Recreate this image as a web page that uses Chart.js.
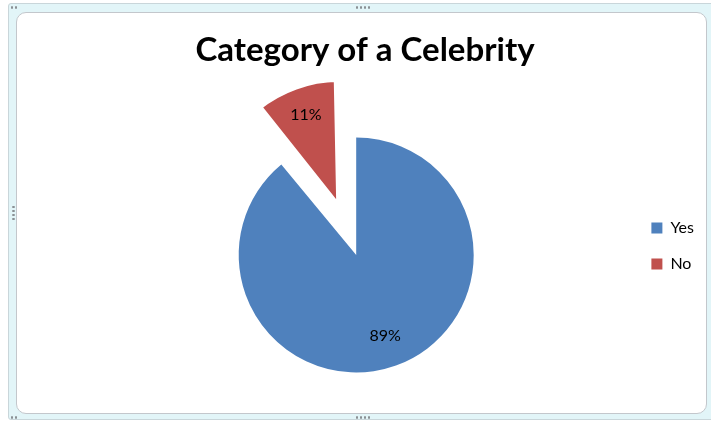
<!DOCTYPE html>
<html>
<head>
<meta charset="utf-8">
<title>Category of a Celebrity</title>
<script src="https://cdn.jsdelivr.net/npm/chart.js@4.4.0/dist/chart.umd.min.js"></script>
<style>
  html, body { margin: 0; padding: 0; width: 711px; height: 423px; overflow: hidden; background: #fff; }
  /* moldura estilo Excel */
  .frame { position: absolute; left: 8px; top: 3px; width: 712px; height: 417px; box-sizing: border-box;
           background: #e2f5f8; border: 1px solid #c9d6da; border-radius: 3px; }
  .plot { position: absolute; left: 16px; top: 12px; width: 691px; height: 402px; box-sizing: border-box;
          background: #fff; border: 1px solid #c3c7cc; border-radius: 10px; }
  .hdots { position: absolute; width: 16px; height: 3px;
           background: radial-gradient(circle, #8a9094 1px, transparent 1.4px) 0 0 / 4px 3px; }
  .vdots { position: absolute; width: 3px; height: 16px;
           background: radial-gradient(circle, #8a9094 1px, transparent 1.4px) 0 0 / 3px 4px; }
  .cdots { position: absolute; width: 8px; height: 3px;
           background: radial-gradient(circle, #8a9094 1px, transparent 1.4px) 0 0 / 4px 3px; }
  canvas { position: absolute; left: 0; top: 0; }
</style>
</head>
<body>
<div class="frame"></div>
<div class="plot"></div>
<div class="hdots" style="left:355px; top:6px;"></div>
<div class="hdots" style="left:355px; top:416px;"></div>
<div class="vdots" style="left:12px; top:205px;"></div>
<div class="cdots" style="left:10px; top:6px;"></div>
<div class="cdots" style="left:10px; top:416px;"></div>
<canvas id="chart" width="711" height="480" style="width:711px;height:480px;"></canvas>
<script>
'use strict';

// --- Dados ------------------------------------------------------------------

const labels = ['Yes', 'No'];
const shares = [89, 11];            // percentuais
const colors = ['#4F81BD', '#C0504D'];
const explode = [0, 184];           // offset do Chart.js (fatia "No" destacada)
const rim = [0, 8.5];               // borda branca que apara a fatia destacada

const LABEL_POS = 0.73;             // posicao do rotulo, fracao do raio
const SPACER_W = 55;                // espaco extra a esquerda da area do grafico

// Caixa vazia no layout: empurra a pizza sem mexer no titulo.
const spacer = {
  id: 'spacer',
  beforeInit(chart) {
    Chart.layouts.addBox(chart, {
      position: 'left',
      weight: 0,
      fullSize: false,
      options: {},
      width: 0,
      height: 0,
      isHorizontal() { return false; },
      update(maxWidth, maxHeight) { this.width = SPACER_W; this.height = maxHeight; },
      draw() {},
    });
  },
};

// Rotulos de percentual dentro das fatias.
const sliceLabels = {
  id: 'sliceLabels',
  afterDatasetsDraw(chart) {
    const meta = chart.getDatasetMeta(0);
    const ctx = chart.ctx;
    ctx.save();
    ctx.font = '16px Lato';
    ctx.fillStyle = '#000';
    ctx.textAlign = 'center';
    ctx.textBaseline = 'middle';
    meta.data.forEach((arc, i) => {
      const p = arc.getProps(['x', 'y', 'startAngle', 'endAngle', 'outerRadius', 'circumference']);
      const mid = (p.startAngle + p.endAngle) / 2;
      // deslocamento aparente da fatia destacada
      const off = (explode[i] || 0) / 4;
      const fix = 1 - Math.sin(Math.min(Math.PI, p.circumference || 0));
      const r = p.outerRadius * LABEL_POS + off + off * fix;
      ctx.fillText(shares[i] + '%', p.x + Math.cos(mid) * r, p.y + Math.sin(mid) * r);
    });
    ctx.restore();
  },
};

// Legenda sem a borda branca das fatias.
function legendLabels(chart) {
  const base = Chart.overrides.pie.plugins.legend.labels.generateLabels(chart);
  return base.map((item) => ({ ...item, lineWidth: 0, strokeStyle: item.fillStyle }));
}

new Chart(document.getElementById('chart'), {
  type: 'pie',
  data: {
    labels: labels,
    datasets: [{
      data: shares,
      backgroundColor: colors,
      borderColor: '#fff',
      borderWidth: rim,
      offset: explode,
      radius: 117.5,
    }],
  },
  options: {
    responsive: false,
    animation: false,
    layout: { padding: { left: 26, right: 7, top: 41, bottom: 29 } },
    plugins: {
      title: {
        display: true,
        text: 'Category of a Celebrity',
        color: '#000',
        padding: 0,
        font: { family: 'Lato', size: 33, weight: 'bold', lineHeight: '18px' },
      },
      legend: {
        position: 'right',
        labels: {
          boxWidth: 11,
          boxHeight: 11,
          padding: 20,
          color: '#000',
          font: { family: 'Lato', size: 16 },
          generateLabels: legendLabels,
        },
      },
      tooltip: { enabled: false },
    },
  },
  plugins: [spacer, sliceLabels],
});
</script>
</body>
</html>
